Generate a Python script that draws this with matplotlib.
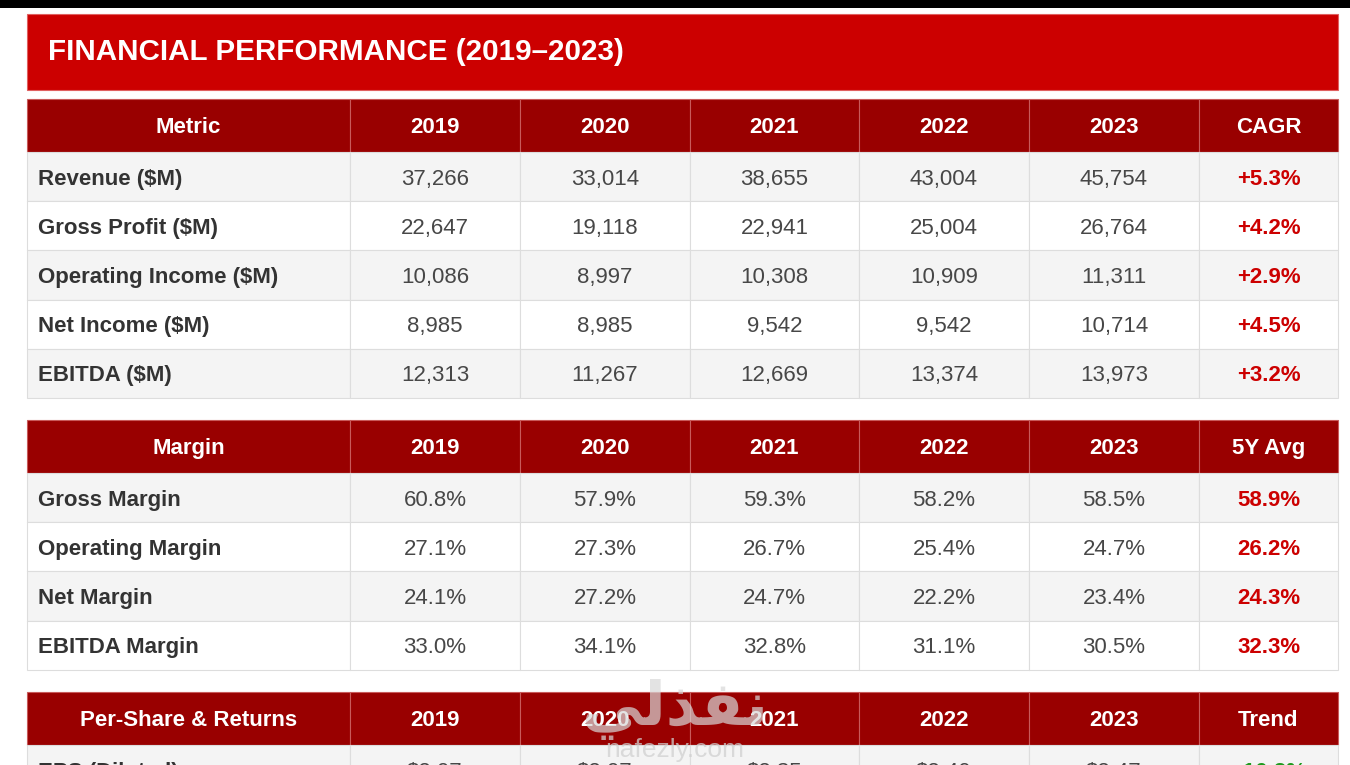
import matplotlib.pyplot as plt
from matplotlib.patches import Rectangle

plt.rcParams['font.family'] = ['Liberation Sans', 'DejaVu Sans']

title = "FINANCIAL PERFORMANCE (2019\u20132023)"
years = ["2019", "2020", "2021", "2022", "2023"]

metrics = ["Revenue ($M)", "Gross Profit ($M)", "Operating Income ($M)",
           "Net Income ($M)", "EBITDA ($M)"]
revenue = [37266, 33014, 38655, 43004, 45754]
gross_profit = [22647, 19118, 22941, 25004, 26764]
operating_income = [10086, 8997, 10308, 10909, 11311]
net_income = [8985, 8985, 9542, 9542, 10714]
ebitda = [12313, 11267, 12669, 13374, 13973]
cagr = [5.3, 4.2, 2.9, 4.5, 3.2]

margin_names = ["Gross Margin", "Operating Margin", "Net Margin", "EBITDA Margin"]
gross_margin = [60.8, 57.9, 59.3, 58.2, 58.5]
operating_margin = [27.1, 27.3, 26.7, 25.4, 24.7]
net_margin = [24.1, 27.2, 24.7, 22.2, 23.4]
ebitda_margin = [33.0, 34.1, 32.8, 31.1, 30.5]
avg_5y = [58.9, 26.2, 24.3, 32.3]

share_names = ["EPS (Diluted)"]
eps = [2.07, 2.07, 2.35, 2.40, 2.47]
eps_trend = [10.2]

# layout in pixels
col_edges = [27, 350, 520, 690, 859, 1029, 1199, 1338]
head_h = 53
row_h = 49.2

RED = "#cc0000"
DARK = "#990000"
GRID = "#dddddd"

fig = plt.figure(figsize=(13.5, 7.65), dpi=100)
ax = fig.add_axes([0, 0, 1, 1])
ax.set_xlim(0, 1350)
ax.set_ylim(765, 0)
ax.axis('off')

# top black strip and title banner
ax.add_patch(Rectangle((0, 0), 1350, 7.5, color="black", lw=0))
ax.add_patch(Rectangle((27, 14), 1311, 76, facecolor=RED, edgecolor="#e06060", lw=0.8))
ax.text(48, 52, title, color="white", fontsize=21.3, fontweight="bold",
        va="center", ha="left")


def draw_table(top, header, labels, rows, last, last_color):
    # header row
    for i in range(len(col_edges) - 1):
        x0, x1 = col_edges[i], col_edges[i + 1]
        ax.add_patch(Rectangle((x0, top), x1 - x0, head_h, facecolor=DARK,
                               edgecolor="#c85a5a", lw=0.8))
        ax.text((x0 + x1) / 2, top + head_h / 2 + 1.5, header[i], color="white",
                fontsize=16, fontweight="bold", ha="center", va="center")
    # body rows
    for r, label in enumerate(labels):
        y0 = top + head_h + r * row_h
        bg = "#f4f4f4" if r % 2 == 0 else "white"
        for i in range(len(col_edges) - 1):
            x0, x1 = col_edges[i], col_edges[i + 1]
            ax.add_patch(Rectangle((x0, y0), x1 - x0, row_h, facecolor=bg,
                                   edgecolor=GRID, lw=0.8))
        yc = y0 + row_h / 2 + 2.5
        ax.text(38, yc, label, color="#333333", fontsize=16, fontweight="bold",
                ha="left", va="center")
        for j, val in enumerate(rows[r]):
            xc = (col_edges[j + 1] + col_edges[j + 2]) / 2
            ax.text(xc, yc, val, color="#474747", fontsize=16,
                    ha="center", va="center")
        xc = (col_edges[-2] + col_edges[-1]) / 2
        ax.text(xc, yc, last[r], color=last_color, fontsize=16,
                fontweight="bold", ha="center", va="center")


fin_rows = [[f"{v:,}" for v in s] for s in
            [revenue, gross_profit, operating_income, net_income, ebitda]]
draw_table(99, ["Metric"] + years + ["CAGR"], metrics, fin_rows,
           [f"+{c:.1f}%" for c in cagr], RED)

mar_rows = [[f"{v:.1f}%" for v in s] for s in
            [gross_margin, operating_margin, net_margin, ebitda_margin]]
draw_table(420, ["Margin"] + years + ["5Y Avg"], margin_names, mar_rows,
           [f"{a:.1f}%" for a in avg_5y], RED)

share_rows = [[f"${v:.2f}" for v in eps]]
draw_table(692, ["Per-Share & Returns"] + years + ["Trend"], share_names,
           share_rows, [f"+{t:.1f}%" for t in eps_trend], "#1e9a1e")

# watermark
ax.text(675, 710, "\ufef2\ufedf\ufeac\ufed4\ufee7", color="#d8d8d8", alpha=0.7,
        fontsize=44, fontweight="bold", ha="center", va="center",
        family=['DejaVu Sans'])
ax.text(675, 750, "nafezly.com", color="#d0d0d0", alpha=0.75, fontsize=19,
        ha="center", va="center")

fig.savefig("out.png", dpi=100)
